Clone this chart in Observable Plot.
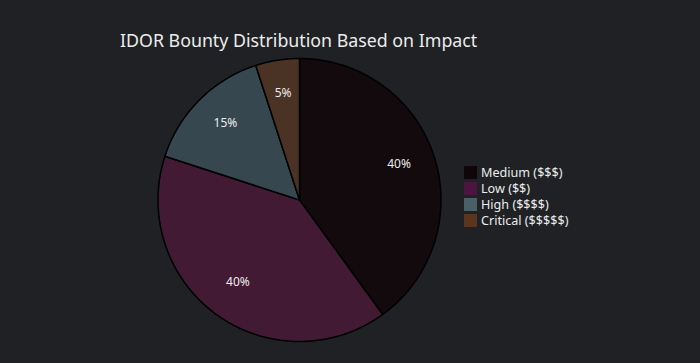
<!DOCTYPE html>
<html><head><meta charset="utf-8">
<script src="https://cdn.jsdelivr.net/npm/d3@7"></script>
<script src="https://cdn.jsdelivr.net/npm/@observablehq/plot@0.6"></script>
<style>
html,body{margin:0;padding:0;background:#1f2125;}
#wrap{position:relative;width:700px;height:363px;font-family:"Noto Sans",sans-serif;}
#title{position:absolute;left:120px;top:28px;font-size:17.8px;color:#ececec;white-space:nowrap;}
#legend{position:absolute;left:464px;top:164px;font-size:12.6px;color:#ececec;}
.row{display:flex;align-items:center;height:16px;}
.sw{width:13px;height:13px;margin-right:4px;}
</style></head>
<body><div id="wrap"><div id="title"></div><div id="legend"></div></div>
<script>
const categories = ["Medium ($$$)", "Low ($$)", "High ($$$$)", "Critical ($$$$$)"];
const values = [40, 40, 15, 5];
const colors = ["#120a0d", "#431a33", "#37474f", "#4a3224"];
const legendColors = ["#0e0609", "#4a1540", "#4a5f66", "#5a3520"];
const title = "IDOR Bounty Distribution Based on Impact";

const W = 700, H = 363, cx = 299, cy = 199.5, R = 141.5;
const total = d3.sum(values);
const arcs = d3.pie().sort(null).value(d => d)(values);
const pts = [];
arcs.forEach((a, i) => {
  pts.push({name: categories[i], x: 0, y: 0});
  const n = Math.max(4, Math.ceil((a.endAngle - a.startAngle) * 60));
  for (let k = 0; k <= n; k++) {
    const t = a.startAngle + (a.endAngle - a.startAngle) * k / n;
    pts.push({name: categories[i], x: Math.sin(t), y: Math.cos(t)});
  }
});
const labels = arcs.map((a, i) => {
  const m = (a.startAngle + a.endAngle) / 2;
  return {x: 0.74 * Math.sin(m), y: 0.74 * Math.cos(m), text: Math.round(values[i] / total * 100) + "%"};
});

const chart = Plot.plot({
  width: W, height: H, margin: 0,
  style: {background: "transparent", fontFamily: "Noto Sans, sans-serif"},
  x: {domain: [-cx / R, (W - cx) / R], axis: null},
  y: {domain: [-(H - cy) / R, cy / R], axis: null},
  color: {domain: categories, range: colors},
  marks: [
    Plot.line(pts, {x: "x", y: "y", z: "name", fill: "name", stroke: "#000", strokeWidth: 1.5, curve: "linear-closed"}),
    Plot.text(labels, {x: "x", y: "y", text: "text", fill: "#ececec", fontSize: 12, dy: -3})
  ]
});
const wrap = document.getElementById("wrap");
wrap.appendChild(chart);
chart.style.position = "absolute"; chart.style.left = "0"; chart.style.top = "0";
document.getElementById("title").textContent = title;
const lg = document.getElementById("legend");
categories.forEach((c, i) => {
  const r = document.createElement("div"); r.className = "row";
  r.innerHTML = `<div class="sw" style="background:${legendColors[i]}"></div><span></span>`;
  r.querySelector("span").textContent = c;
  lg.appendChild(r);
});
wrap.appendChild(document.getElementById("title"));
wrap.appendChild(lg);
</script></body></html>
